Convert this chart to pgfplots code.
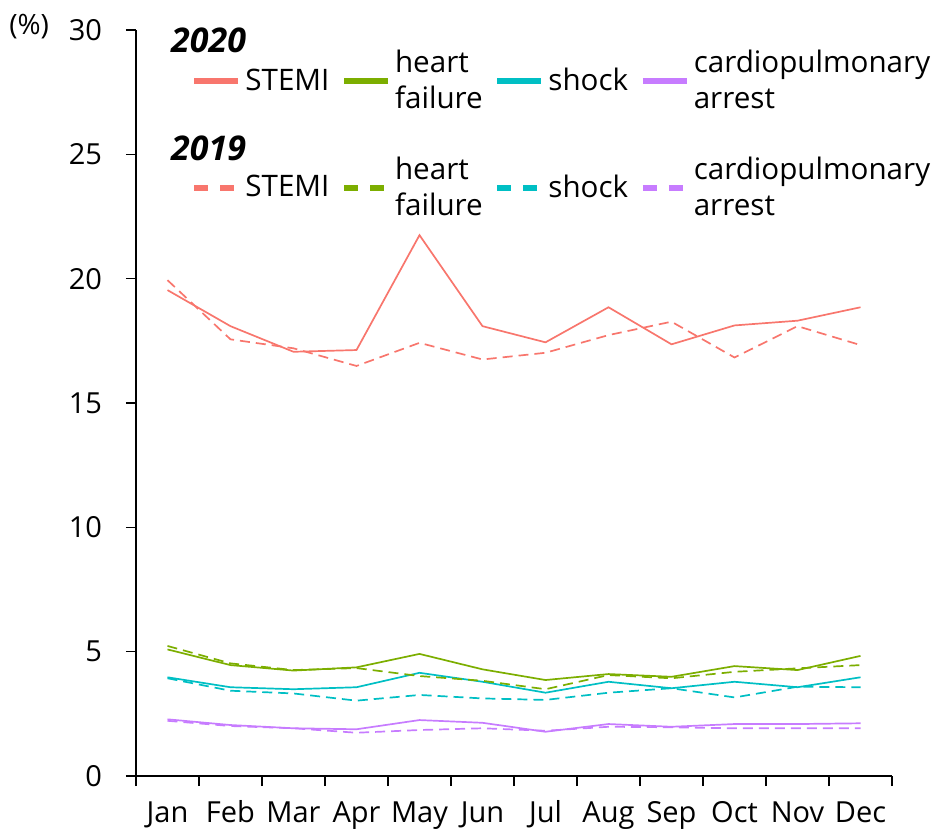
\documentclass[border=0pt]{standalone}
\usepackage{fontspec}
\setmainfont{Open Sans}
\usepackage{pgfplots}
\pgfplotsset{compat=1.18}
\definecolor{cS}{HTML}{F8766D}
\definecolor{cH}{HTML}{7CAE00}
\definecolor{cK}{HTML}{00BFC4}
\definecolor{cC}{HTML}{C77CFF}
\pgfplotsset{
  solidleg/.style={legend image code/.code={\draw[##1, line width=3pt, solid] (0pt,0pt) -- (22pt,0pt);}},
  dashleg/.style={legend image code/.code={\draw[##1, line width=3pt, dash pattern=on 7pt off 6pt] (0pt,0pt) -- (22pt,0pt);}},
}
\begin{document}
\begin{tikzpicture}
\begin{axis}[
  scale only axis, width=378pt, height=373pt,
  xmin=-0.5, xmax=11.5, ymin=0, ymax=30,
  clip=false,
  axis x line*=bottom, axis y line*=left,
  axis line style={line width=0.8pt, black},
  xtick={-0.5,0.5,...,11.5},
  xticklabels={},
  extra x ticks={0,...,11},
  extra x tick labels={Jan,Feb,Mar,Apr,May,Jun,Jul,Aug,Sep,Oct,Nov,Dec},
  extra x tick style={major tick length=0pt},
  ytick={0,5,...,30},
  tick align=outside,
  major tick length=5pt,
  every tick/.style={black, line width=0.8pt},
  tick label style={font=\fontsize{14.5}{16}\selectfont},
  yticklabel style={xshift=-8.5pt},
  xticklabel style={yshift=-8.5pt, text height=11pt, text depth=3.5pt},
  /pgf/number format/assume math mode=true,
  no markers,
  legend columns=4,
  legend cell align=left,
  legend style={draw=none, fill=none, at={(rel axis cs:0,1)}, anchor=north west,
    xshift=24.5pt, yshift=-6pt,
    font=\fontsize{14.8}{18}\selectfont,
    cells={align=left},
    row sep=18.5pt,
    /tikz/every even column/.append style={column sep=3.8pt}},
]
\coordinate (o) at (rel axis cs:0,0);
\node[anchor=east, font=\fontsize{14}{16}\selectfont] at (rel axis cs:0,1) [xshift=-40pt, yshift=1.5pt] {(\%)};
\node[anchor=base west, font=\fontsize{17}{19}\selectfont\bfseries\itshape] at (rel axis cs:0,1) [xshift=14pt, yshift=-11pt] {2020};
\node[anchor=base west, font=\fontsize{17}{19}\selectfont\bfseries\itshape] at (rel axis cs:0,1) [xshift=14pt, yshift=-65pt] {2019};

% 2020
\addplot[cS, line width=0.85pt, solidleg] coordinates {(0,19.54) (1,18.09) (2,17.06) (3,17.13) (4,21.75) (5,18.09) (6,17.44) (7,18.85) (8,17.36) (9,18.12) (10,18.31) (11,18.85)};
\addlegendentry{STEMI}
\addplot[cH, line width=0.85pt, solidleg] coordinates {(0,5.09) (1,4.46) (2,4.24) (3,4.37) (4,4.91) (5,4.29) (6,3.86) (7,4.10) (8,3.99) (9,4.42) (10,4.26) (11,4.83)};
\addlegendentry{heart\\failure}
\addplot[cK, line width=0.85pt, solidleg] coordinates {(0,3.97) (1,3.57) (2,3.49) (3,3.57) (4,4.15) (5,3.79) (6,3.35) (7,3.79) (8,3.53) (9,3.79) (10,3.57) (11,3.97)};
\addlegendentry{shock}
\addplot[cC, line width=0.85pt, solidleg] coordinates {(0,2.28) (1,2.05) (2,1.92) (3,1.88) (4,2.25) (5,2.14) (6,1.78) (7,2.09) (8,1.98) (9,2.09) (10,2.09) (11,2.12)};
\addlegendentry{cardiopulmonary\\arrest}
% 2019
\addplot[cS, line width=0.85pt, dash pattern=on 5pt off 3pt, dashleg] coordinates {(0,19.94) (1,17.56) (2,17.20) (3,16.49) (4,17.42) (5,16.75) (6,17.02) (7,17.73) (8,18.27) (9,16.83) (10,18.09) (11,17.33)};
\addlegendentry{STEMI}
\addplot[cH, line width=0.85pt, dash pattern=on 5pt off 3pt, dashleg] coordinates {(0,5.23) (1,4.53) (2,4.26) (3,4.34) (4,4.02) (5,3.83) (6,3.49) (7,4.06) (8,3.93) (9,4.19) (10,4.33) (11,4.46)};
\addlegendentry{heart\\failure}
\addplot[cK, line width=0.85pt, dash pattern=on 5pt off 3pt, dashleg] coordinates {(0,3.93) (1,3.43) (2,3.32) (3,3.03) (4,3.26) (5,3.12) (6,3.06) (7,3.35) (8,3.53) (9,3.16) (10,3.59) (11,3.57)};
\addlegendentry{shock}
\addplot[cC, line width=0.85pt, dash pattern=on 5pt off 3pt, dashleg] coordinates {(0,2.22) (1,2.01) (2,1.92) (3,1.74) (4,1.85) (5,1.92) (6,1.82) (7,1.98) (8,1.96) (9,1.92) (10,1.92) (11,1.92)};
\addlegendentry{cardiopulmonary\\arrest}
\end{axis}
\pgfresetboundingbox
\useasboundingbox ([shift={(-68pt,-28pt)}]o) rectangle ++(473pt,416pt);
\end{tikzpicture}
\end{document}
